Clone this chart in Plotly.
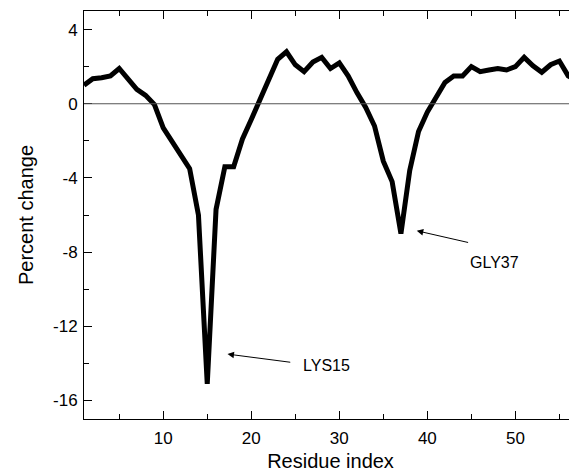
import plotly.graph_objects as go

residue = list(range(1, 58))
percent_change = [
    1.0, 1.35, 1.4, 1.5, 1.9, 1.35, 0.78, 0.45, -0.05, -1.3,
    -2.0, -2.7, -3.5, -6.0, -15.1, -5.7, -3.4, -3.4, -1.9, -0.85,
    0.2, 1.35, 2.4, 2.8, 2.1, 1.73, 2.25, 2.5, 1.9, 2.2,
    1.5, 0.6, -0.2, -1.2, -3.1, -4.2, -7.0, -3.6, -1.5, -0.45,
    0.3, 1.15, 1.5, 1.5, 2.0, 1.73, 1.82, 1.9, 1.82, 2.0,
    2.5, 2.05, 1.7, 2.1, 2.3, 1.5, 1.2,
]
x_ticks = [10, 20, 30, 40, 50]
y_ticks = [4, 0, -4, -8, -12, -16]
labels = ["LYS15", "GLY37"]
label_pos = [(25.6, -14.1), (44.6, -8.55)]
arrow_head = [(17.3, -13.5), (38.8, -6.85)]
arrow_tail = [(24.6, -13.95), (44.8, -7.5)]

FONT = "Liberation Sans, Arial, sans-serif"

fig = go.Figure()
fig.add_trace(go.Scatter(
    x=residue, y=percent_change, mode="lines",
    line=dict(color="black", width=5), showlegend=False,
))

fig.add_shape(type="line", xref="paper", x0=0, x1=1, yref="y", y0=0, y1=0,
              line=dict(color="#555555", width=1.2))

for lab, (tx, ty), (hx, hy), (ax_, ay_) in zip(labels, label_pos, arrow_head, arrow_tail):
    fig.add_annotation(x=hx, y=hy, ax=ax_, ay=ay_, xref="x", yref="y",
                       axref="x", ayref="y", text="", showarrow=True,
                       arrowhead=2, arrowsize=1.3, arrowwidth=1, arrowcolor="black")
    fig.add_annotation(x=tx, y=ty, xref="x", yref="y", text=lab, showarrow=False,
                       xanchor="left", yanchor="middle",
                       font=dict(family=FONT, size=16, color="black"))

axis_common = dict(
    showgrid=False, zeroline=False, showline=True, linecolor="black", linewidth=1,
    mirror="allticks", ticks="inside", ticklen=8, tickwidth=1, tickcolor="black",
    tickfont=dict(family=FONT, size=17, color="black"),
)
fig.update_xaxes(range=[1, 57], tickvals=x_ticks, ticklabelstandoff=4,
                 minor=dict(dtick=5, tick0=0, ticks="inside", ticklen=5, tickcolor="black"),
                 title=dict(text="Residue index", font=dict(family=FONT, size=20, color="black"), standoff=6),
                 **axis_common)
fig.update_yaxes(range=[-17, 5], tickvals=y_ticks, ticktext=[str(v) for v in y_ticks],
                 ticklabelstandoff=2,
                 minor=dict(dtick=2, tick0=0, ticks="inside", ticklen=5, tickcolor="black"),
                 title=dict(text="Percent change", font=dict(family=FONT, size=20, color="black"), standoff=14),
                 **axis_common)

# The page body carries an 8px margin, so the figure is sized to fit inside it.
fig.update_layout(
    width=569, height=466,
    margin=dict(l=76, r=0, t=3, b=55),
    plot_bgcolor="white", paper_bgcolor="white",
    font=dict(family=FONT, color="black"),
)

fig.write_html("out.html")
